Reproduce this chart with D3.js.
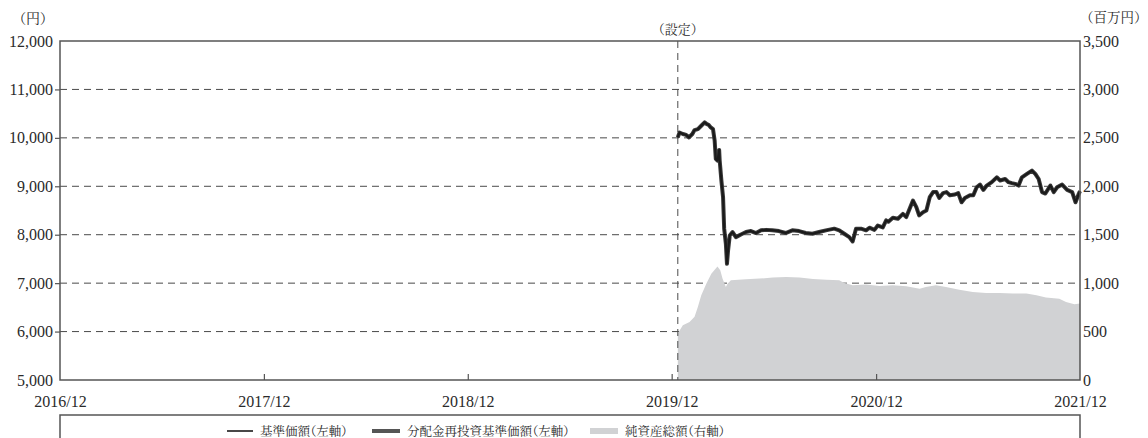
<!DOCTYPE html>
<html>
<head>
<meta charset="utf-8">
<script src="https://cdn.jsdelivr.net/npm/d3@7.9.0/dist/d3.min.js"></script>
<style>
  body { margin: 0; background: #fff; }
  svg { display: block; }
  .jp { font-feature-settings: "palt"; }
</style>
</head>
<body>
<div id="chart"></div>
<script>
// 基準価額 (= 分配金再投資基準価額, no distributions)
const navDates = [
  '2019-12-12','2019-12-15','2019-12-21','2019-12-27','2020-01-01','2020-01-07','2020-01-11','2020-01-17',
  '2020-01-23','2020-01-29','2020-02-02','2020-02-05','2020-02-09','2020-02-13','2020-02-16','2020-02-18',
  '2020-02-21','2020-02-24','2020-02-25','2020-02-28','2020-03-02','2020-03-04','2020-03-07','2020-03-09',
  '2020-03-11','2020-03-14','2020-03-19','2020-03-25','2020-04-03','2020-04-12','2020-04-21','2020-04-30',
  '2020-05-09','2020-05-18','2020-05-29','2020-06-10','2020-06-22','2020-07-04','2020-07-16','2020-07-28',
  '2020-08-09','2020-08-21','2020-09-02','2020-09-17','2020-09-26','2020-10-05','2020-10-14','2020-10-20',
  '2020-10-26','2020-11-04','2020-11-13','2020-11-19','2020-11-28','2020-12-04','2020-12-13','2020-12-19',
  '2020-12-23','2020-12-31','2021-01-09','2021-01-18','2021-01-24','2021-01-30','2021-02-05','2021-02-11',
  '2021-02-16','2021-02-23','2021-03-01','2021-03-07','2021-03-13','2021-03-19','2021-03-24','2021-03-31',
  '2021-04-06','2021-04-12','2021-04-21','2021-04-27','2021-05-03','2021-05-09','2021-05-18','2021-05-24',
  '2021-05-30','2021-06-05','2021-06-11','2021-06-17','2021-06-26','2021-07-05','2021-07-11','2021-07-20',
  '2021-07-26','2021-08-01','2021-08-07','2021-08-13','2021-08-19','2021-08-28','2021-09-06','2021-09-12',
  '2021-09-18','2021-09-24','2021-09-30','2021-10-09','2021-10-15','2021-10-21','2021-10-30','2021-11-08',
  '2021-11-17','2021-11-23','2021-11-29','2021-12-01'
];
const navValues = [
  10010,10110,10080,10060,10010,10080,10160,10180,
  10250,10320,10285,10270,10215,10180,9940,9565,
  9530,9750,9530,9120,8775,8125,7815,7400,
  7675,7985,8055,7950,8005,8055,8075,8035,
  8090,8100,8090,8075,8035,8090,8075,8035,
  8020,8055,8090,8125,8090,8020,7950,7860,
  8125,8125,8090,8145,8100,8190,8150,8295,
  8270,8350,8330,8430,8365,8535,8705,8570,
  8400,8465,8500,8775,8880,8880,8760,8860,
  8880,8815,8830,8860,8670,8760,8815,8815,
  8980,9035,8925,9015,9085,9185,9120,9150,
  9085,9065,9050,9015,9185,9255,9325,9255,
  9150,8880,8850,9015,8880,8980,9035,8925,
  8880,8670,8850,8900
];

// 純資産総額 (百万円)
const assetDates = [
  '2019-12-12','2019-12-21','2020-01-02','2020-01-11','2020-01-17','2020-01-23','2020-02-01','2020-02-10',
  '2020-02-16','2020-02-21','2020-02-26','2020-03-01','2020-03-07','2020-03-10','2020-03-16','2020-04-12',
  '2020-05-06','2020-05-30','2020-06-23','2020-07-17','2020-08-10','2020-09-03','2020-09-26','2020-10-05',
  '2020-10-20','2020-11-13','2020-12-07','2020-12-31','2021-01-24','2021-02-17','2021-02-28','2021-03-18',
  '2021-04-05','2021-04-29','2021-05-23','2021-06-16','2021-07-10','2021-08-03','2021-08-27','2021-09-14',
  '2021-10-01','2021-10-25','2021-11-06','2021-11-21','2021-12-01'
];
const assetValues = [
  480,566,600,652,755,875,995,1098,
  1139,1173,1132,1047,960,995,1029,1040,
  1047,1057,1064,1057,1043,1036,1029,1002,
  978,985,971,978,968,943,960,978,
  960,933,909,899,899,892,892,875,
  851,840,806,782,789
];

const setupDate = '2019-12-12';
const xTickDates = ['2016-12-01','2017-12-01','2018-12-01','2019-12-01','2020-12-01','2021-12-01'];
const xTickLabels = ['2016/12','2017/12','2018/12','2019/12','2020/12','2021/12'];
const leftTicks = [5000,6000,7000,8000,9000,10000,11000,12000];
const rightTicks = [0,500,1000,1500,2000,2500,3000,3500];
const legendLabels = ['基準価額（左軸）','分配金再投資基準価額（左軸）','純資産総額（右軸）'];

const FONT = '"Liberation Serif", "Noto Serif CJK JP", serif';

const parse = d3.timeParse('%Y-%m-%d');
const nav = navDates.map((d, i) => ({ date: parse(d), value: navValues[i] }));
const assets = assetDates.map((d, i) => ({ date: parse(d), value: assetValues[i] }));

const width = 1148;
const height = 438;
const margin = { top: 41, right: 68, bottom: 58, left: 60 };
const usable = {
  left: margin.left,
  right: width - margin.right,
  top: margin.top,
  bottom: height - margin.bottom,
};

const svg = d3.select('#chart')
  .append('svg')
  .attr('width', width)
  .attr('height', height)
  .attr('font-family', FONT);

const xScale = d3.scaleTime()
  .domain([parse(xTickDates[0]), parse(xTickDates[xTickDates.length - 1])])
  .range([usable.left, usable.right]);
const yScale = d3.scaleLinear().domain([5000, 12000]).range([usable.bottom, usable.top]);
const yRight = d3.scaleLinear().domain([0, 3500]).range([usable.bottom, usable.top]);

const gridColor = '#4a4a4a';
const frameColor = '#555';
const textColor = '#2a2a2a';

// gridlines
svg.append('g')
  .attr('class', 'gridlines')
  .selectAll('line')
  .data(leftTicks.slice(1, -1))
  .join('line')
  .attr('x1', usable.left)
  .attr('x2', usable.right)
  .attr('y1', (d) => yScale(d))
  .attr('y2', (d) => yScale(d))
  .attr('stroke', gridColor)
  .attr('stroke-width', 1)
  .attr('stroke-dasharray', '7,5');

// net assets area
const area = d3.area()
  .x((d) => xScale(d.date))
  .y0(yRight(0))
  .y1((d) => yRight(d.value));
svg.append('path')
  .datum(assets)
  .attr('d', area)
  .attr('fill', '#d1d2d4');

// setup line
svg.append('line')
  .attr('x1', xScale(parse(setupDate)))
  .attr('x2', xScale(parse(setupDate)))
  .attr('y1', usable.top)
  .attr('y2', usable.bottom)
  .attr('stroke', gridColor)
  .attr('stroke-width', 1)
  .attr('stroke-dasharray', '7,5');

// price lines
const line = d3.line()
  .x((d) => xScale(d.date))
  .y((d) => yScale(d.value))
  .curve(d3.curveLinear);
svg.append('path')
  .datum(nav)
  .attr('d', line)
  .attr('fill', 'none')
  .attr('stroke', '#3a3a3a')
  .attr('stroke-width', 4)
  .attr('stroke-linejoin', 'round');
svg.append('path')
  .datum(nav)
  .attr('d', line)
  .attr('fill', 'none')
  .attr('stroke', '#1a1a1a')
  .attr('stroke-width', 2)
  .attr('stroke-linejoin', 'round');

// frame
svg.append('rect')
  .attr('x', usable.left)
  .attr('y', usable.top)
  .attr('width', usable.right - usable.left)
  .attr('height', usable.bottom - usable.top)
  .attr('fill', 'none')
  .attr('stroke', frameColor)
  .attr('stroke-width', 1.5);

// axes
const leftAxis = svg.append('g')
  .attr('transform', `translate(${usable.left},0)`)
  .call(d3.axisLeft(yScale).tickValues(leftTicks).tickFormat(d3.format(',')).tickSize(5).tickPadding(2));
leftAxis.selectAll('.tick line')
  .filter((d) => d === 5000 || d === 12000)
  .remove();

const rightAxis = svg.append('g')
  .attr('transform', `translate(${usable.right},0)`)
  .call(d3.axisRight(yRight).tickValues(rightTicks).tickFormat(d3.format(',')).tickSize(0).tickPadding(3));

const bottomAxis = svg.append('g')
  .attr('transform', `translate(0,${usable.bottom})`)
  .call(d3.axisBottom(xScale)
    .tickValues(xTickDates.map(parse))
    .tickFormat((d, i) => xTickLabels[i])
    .tickSize(-6)
    .tickPadding(16));
bottomAxis.selectAll('.tick line')
  .filter((d, i) => i === 0 || i === xTickDates.length - 1)
  .remove();

[leftAxis, rightAxis, bottomAxis].forEach((g) => {
  g.attr('font-family', FONT).attr('font-size', 16);
  g.select('.domain').remove();
  g.selectAll('.tick line').attr('stroke', frameColor).attr('stroke-width', 1.2);
  g.selectAll('.tick text')
    .attr('fill', textColor)
    .attr('font-family', FONT)
    .style('font-family', FONT)
    .style('font-size', '16px');
});

// unit labels
svg.append('text')
  .attr('class', 'jp')
  .attr('x', 33)
  .attr('y', 23)
  .attr('text-anchor', 'middle')
  .attr('fill', textColor)
  .style('font-family', FONT)
  .style('font-size', '14px')
  .text('（円）');
svg.append('text')
  .attr('x', 1080)
  .attr('y', 22)
  .attr('fill', textColor)
  .style('font-family', FONT)
  .style('font-size', '13.5px')
  .text('（百万円）');
svg.append('text')
  .attr('x', xScale(parse(setupDate)))
  .attr('y', 34)
  .attr('text-anchor', 'middle')
  .attr('fill', textColor)
  .style('font-family', FONT)
  .style('font-size', '13px')
  .text('（設定）');

// legend
const legendY = 431;
svg.append('rect')
  .attr('x', usable.left)
  .attr('y', 415)
  .attr('width', usable.right - usable.left)
  .attr('height', 60)
  .attr('fill', 'none')
  .attr('stroke', frameColor)
  .attr('stroke-width', 1.5);

svg.append('line')
  .attr('x1', 227).attr('x2', 253)
  .attr('y1', legendY).attr('y2', legendY)
  .attr('stroke', '#1a1a1a').attr('stroke-width', 1.6);
svg.append('line')
  .attr('x1', 372).attr('x2', 400)
  .attr('y1', legendY).attr('y2', legendY)
  .attr('stroke', '#555').attr('stroke-width', 4);
svg.append('rect')
  .attr('x', 590).attr('y', legendY - 3)
  .attr('width', 28).attr('height', 6)
  .attr('fill', '#d1d2d4');

svg.append('g')
  .selectAll('text')
  .data(legendLabels)
  .join('text')
  .attr('class', 'jp')
  .attr('x', (d, i) => [260, 407, 625][i])
  .attr('y', legendY)
  .attr('dy', '0.36em')
  .attr('fill', textColor)
  .style('font-family', FONT)
  .style('font-size', '12.5px')
  .text((d) => d);
</script>
</body>
</html>
